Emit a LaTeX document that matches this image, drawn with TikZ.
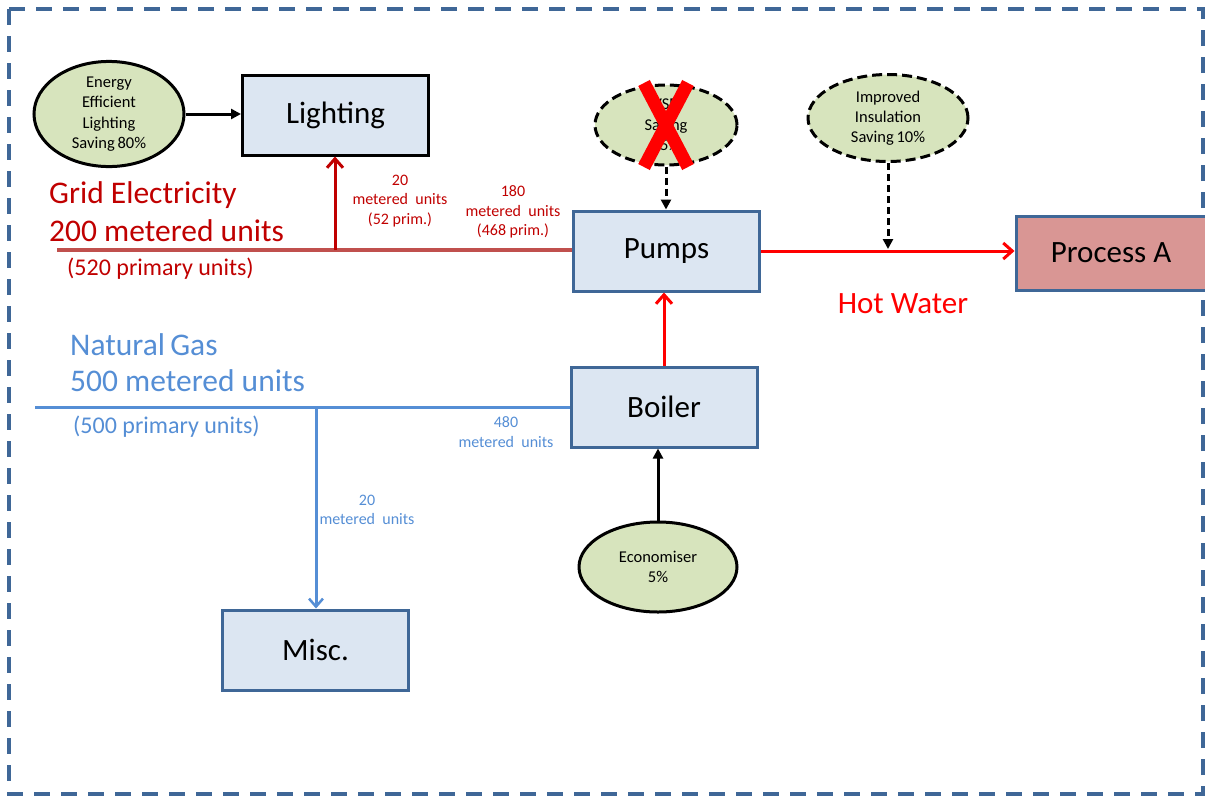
\documentclass[tikz,border=0pt]{standalone}
\usepackage{fontspec}
\setmainfont{Carlito}
\usetikzlibrary{arrows.meta,shapes.geometric}
\definecolor{bordblue}{HTML}{3F6797}
\definecolor{boxfill}{HTML}{DCE6F2}
\definecolor{ellfill}{HTML}{D7E4BD}
\definecolor{procfill}{HTML}{D99694}
\definecolor{darkred}{HTML}{C00000}
\definecolor{elecline}{HTML}{C0504D}
\definecolor{gasblue}{HTML}{558ED5}
\tikzset{
  x=1pt,y=-1pt,
  boxnode/.style={draw=bordblue,line width=3pt,fill=boxfill,minimum width=#1,minimum height=80pt,inner sep=0pt,font=\fontsize{31}{33}\selectfont},
  boxnode/.default=186pt,
  ellnode/.style={ellipse,draw=black,line width=3pt,fill=ellfill,inner sep=0pt,align=center,font=\fontsize{16.5}{20.3}\selectfont},
  dashell/.style={ellnode,dash pattern=on 10pt off 5pt},
  biglbl/.style={anchor=west,inner sep=0pt,font=\fontsize{31.5}{33}\selectfont},
  midlbl/.style={anchor=west,inner sep=0pt,font=\fontsize{24}{26}\selectfont},
  smalllbl/.style={inner sep=0pt,align=center,font=\fontsize{16}{19.5}\selectfont},
  redarrow/.style={line width=3pt,-{Straight Barb[length=9pt,width=16pt,line width=3pt]}},
  blkarrow/.style={line width=3pt,-{Triangle[length=10pt,width=10pt]}},
}
\begin{document}
\begin{tikzpicture}
\useasboundingbox (0,0) rectangle (1205,796);
% border
\draw[bordblue,line width=3.5pt,dash pattern=on 16pt off 11pt] (9,9) rectangle (1203,794);

% boxes
\node[boxnode,draw=black] (light) at (335.5,115) {Lighting};
\node[boxnode] (pumps) at (666.5,251) {Pumps};
\node[boxnode] (boiler) at (664,407) {Boiler};
\node[boxnode] (misc) at (315.5,650) {Misc.};
\node[boxnode=190pt,fill=procfill,minimum height=74pt] (proc) at (1111,253) {Process A};

% ellipses
\node[ellnode,minimum width=150pt,minimum height=92pt] (eel) at (109,114) {Energy\\Efficient\\Lighting\\Saving\,80\%};
\node[dashell,minimum width=142pt,minimum height=80pt] (vsd) at (666,125) {VSD\\Saving\\15\%};
\node[dashell,minimum width=160pt,minimum height=87pt] (ins) at (888,118) {Improved\\Insulation\\Saving\,10\%};
\node[ellnode,minimum width=158pt,minimum height=90pt] (eco) at (658,567) {Economiser\\5\%};

% red X over VSD
\draw[red,line width=13pt] (644,83) -- (688,167);
\draw[red,line width=13pt] (688,83) -- (644,167);

% efficient lighting to lighting
\draw[black,blkarrow] (eel.east) -- (light.west |- eel.east);

% grid electricity
\coordinate (estart) at (57,250);
\coordinate (ejoin) at (335,250);
\draw[elecline,line width=3.5pt] (estart) -- (pumps.west |- estart);
\draw[darkred,redarrow] (ejoin) -- (light.south -| ejoin);
\node[biglbl,text=darkred] (ge1) at (49,195) {Grid Electricity};
\node[biglbl,text=darkred] (ge2) at (49,231) {200 metered units};
\node[midlbl,text=darkred] (ge3) at (67,269) {(520 primary units)};
\node[smalllbl,text=darkred] (l20) at (400,201) {20\\metered\ \ units\\(52 prim.)};
\node[smalllbl,text=darkred] (l180) at (513,212) {180\\metered\ \ units\\(468 prim.)};

% hot water
\draw[red,redarrow] (pumps.east) -- (proc.west |- pumps.east);
\node[inner sep=0pt,text=red,font=\fontsize{31}{33}\selectfont] (hw) at (903,304) {Hot Water};
\coordinate (insjoin) at (888,249);
\draw[black,blkarrow,dash pattern=on 7pt off 4pt] (ins.south) -- (insjoin);
\draw[black,blkarrow,dash pattern=on 7pt off 4pt] (vsd.south) -- (pumps.north -| vsd.south);

% boiler to pumps
\draw[red,redarrow] (boiler.north) -- (pumps.south -| boiler.north);
\draw[black,blkarrow] (eco.north) -- (boiler.south -| eco.north);

% natural gas
\coordinate (gstart) at (35,407);
\coordinate (gjoin) at (316,407);
\draw[gasblue,line width=3pt] (gstart) -- (boiler.west |- gstart);
\draw[gasblue,line width=3pt,-{Straight Barb[length=8pt,width=14pt,line width=2.5pt]}] (gjoin) -- (misc.north -| gjoin);
\node[biglbl,text=gasblue] (ng1) at (70,345) {Natural\,Gas};
\node[biglbl,text=gasblue] (ng2) at (70,381) {500 metered units};
\node[midlbl,text=gasblue] (ng3) at (73,427) {(500 primary units)};
\node[smalllbl,text=gasblue] (l480) at (506,432) {480\\metered\ \ units};
\node[smalllbl,text=gasblue] (l20g) at (367,510) {20\\metered\ \ units};
\end{tikzpicture}
\end{document}
